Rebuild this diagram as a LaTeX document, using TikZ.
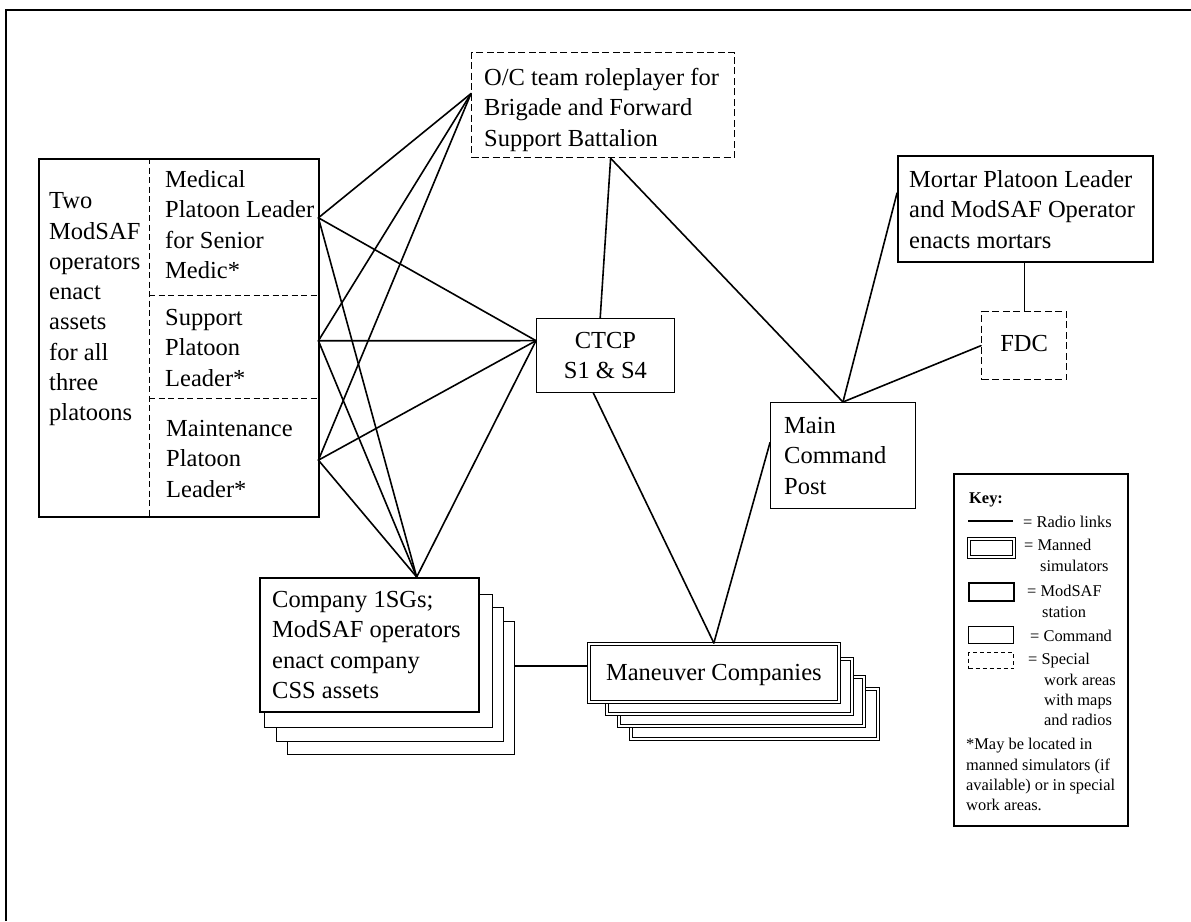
\documentclass[tikz,border=0pt]{standalone}
\usepackage{fontspec}
\setmainfont{Liberation Serif}
\newcommand\mainfs{\fontsize{24.5}{30.3}\selectfont}
\newcommand\keyfs{\fontsize{16.4}{20.4}\selectfont}
\begin{document}
\begin{tikzpicture}[x=1pt,y=-1pt,
  conn/.style={line width=1.6pt, line cap=round},
  thinconn/.style={line width=1.1pt},
  frameline/.style={line width=1.6pt},
  modsaf/.style={draw, line width=1.7pt, fill=white, inner sep=0pt, rectangle, anchor=north west},
  backbox/.style={draw, line width=1.4pt, fill=white, inner sep=0pt, rectangle, anchor=north west},
  cmd/.style={draw, line width=0.9pt, fill=white, inner sep=0pt, rectangle, anchor=north west},
  special/.style={draw, line width=1.3pt, dash pattern=on 7pt off 3.5pt, fill=white, inner sep=0pt, rectangle, anchor=north west},
  manned/.style={draw, double=white, double distance=1.3pt, line width=1.7pt, fill=white, inner sep=0pt, rectangle, anchor=north west},
  divider/.style={line width=1.2pt, dash pattern=on 6pt off 3.5pt},
  area/.style={inner sep=0pt, rectangle, anchor=north west},
  txt/.style={inner sep=0pt, align=left, anchor=north west, font=\mainfs},
  keytxt/.style={inner sep=0pt, align=left, anchor=north west, font=\keyfs}
]
\useasboundingbox (0,0) rectangle (1191,921);
% outer frame
\draw[frameline] (6,921) -- (6,10) -- (1191,10);

% ---- left platoon box
\node[modsaf, minimum width=280, minimum height=358] (lbox) at (38,158) {};
\node[area, minimum width=111, minimum height=358] (two) at (38,158) {};
\node[area, minimum width=169, minimum height=137] (med) at (149,158) {};
\node[area, minimum width=169, minimum height=103] (sup) at (149,295) {};
\node[area, minimum width=169, minimum height=118] (mnt) at (149,398) {};
\draw[divider] (two.north east) -- (two.south east);
\draw[divider] (med.south west) -- (med.south east);
\draw[divider] (sup.south west) -- (sup.south east);
\node[txt] (twotxt) at (49,187.3) {\strut Two\\ModSAF\\operators\\enact\\assets\\for all\\three\\platoons};
\node[txt] (medtxt) at (165,166) {\strut Medical\\Platoon Leader\\for Senior\\Medic*};
\node[txt] (suptxt) at (165,304) {\strut Support\\Platoon\\Leader*};
\node[txt] (mnttxt) at (166,415) {\strut Maintenance\\Platoon\\Leader*};

% ---- O/C box
\node[special, minimum width=263, minimum height=105] (oc) at (471,52) {};
\node[txt] (octxt) at (484,64) {\strut O/C team roleplayer for\\Brigade and Forward\\Support Battalion};

% ---- CTCP
\node[cmd, minimum width=138, minimum height=74, align=center, font=\mainfs] (ctcp) at (536,318) {CTCP\\S1 \& S4};

% ---- Main Command Post
\node[cmd, minimum width=145, minimum height=106] (mcp) at (770,402) {};
\node[txt] (mcptxt) at (784,412) {\strut Main\\Command\\Post};

% ---- Mortar
\node[modsaf, minimum width=255, minimum height=106] (mortar) at (897,155) {};
\node[txt] (mortartxt) at (909,166) {\strut Mortar Platoon Leader\\and ModSAF Operator\\enacts mortars};

% ---- FDC
\node[special, minimum width=85, minimum height=68, font=\mainfs, text height=12pt, text depth=0pt] (fdc) at (981,311) {FDC};

% ---- Company 1SGs stack
\node[backbox, minimum width=227, minimum height=133] (co4) at (287,621) {};
\node[backbox, minimum width=227, minimum height=134] (co3) at (276,607) {};
\node[backbox, minimum width=228, minimum height=133] (co2) at (264,594) {};
\node[modsaf, line width=1.5pt, minimum width=219, minimum height=134] (co) at (259,577) {};
\node[txt] (cotxt) at (272,586) {\strut Company 1SGs;\\ModSAF operators\\enact company\\CSS assets};

% ---- Maneuver Companies stack
\node[manned, minimum width=247, minimum height=50] (man4) at (630,688) {};
\node[manned, minimum width=245, minimum height=49] (man3) at (618,676) {};
\node[manned, minimum width=245, minimum height=55] (man2) at (606,658) {};
\node[manned, minimum width=250, minimum height=58, font=\mainfs, text depth=0pt] (man) at (588,643) {Maneuver Companies};

% ---- connectors
\draw[conn] (med.6) -- (oc.175);
\draw[conn] (sup.4) -- (oc.175);
\draw[conn] (mnt.-2) -- (oc.175);
\draw[conn] (med.6) -- (ctcp.168);
\draw[conn] (sup.4) -- (ctcp.168);
\draw[conn] (mnt.-2) -- (ctcp.168);
\draw[conn] (med.6) -- (co.55);
\draw[conn] (sup.4) -- (co.55);
\draw[conn] (mnt.-2) -- (co.55);
\draw[conn] (ctcp.168) -- (co.55);
\draw[conn] (oc.-82) -- (ctcp.98);
\draw[conn] (oc.-82) -- (mcp.north);
\draw[conn] (ctcp.-108) -- (man.north);
\draw[conn] (mcp.170) -- (man.north);
\draw[conn] (mcp.north) -- (mortar.173);
\draw[conn] (mcp.north) -- (fdc.west);
\draw[thinconn] (fdc.north) -- (fdc.north |- mortar.south);
\draw[thinconn] (co4.11) -- (co4.11 -| man.west);

% ---- Key
\node[draw, line width=2.2pt, inner sep=0pt, anchor=north west, minimum width=174, minimum height=352] (key) at (953,473) {};
\node[keytxt, font=\keyfs\bfseries] (keyhead) at (969,488.7) {\strut Key:};
\coordinate (kr1) at (968,521);
\coordinate (kr2) at (1013,521);
\draw[line width=1.4pt] (kr1) -- (kr2);
\node[keytxt] (kradio) at (1023,512.7) {\strut = Radio links};
\node[manned, minimum width=45, minimum height=18] (kman) at (968,538) {};
\node[keytxt] (kmantxt) at (1024,536.2) {\strut = Manned\\\hspace*{16pt}simulators};
\node[modsaf, line width=1.5pt, minimum width=45, minimum height=18] (kmod) at (968,582) {};
\node[keytxt] (kmodtxt) at (1027,582.2) {\strut = ModSAF\\\hspace*{15pt}station};
\node[cmd, minimum width=45, minimum height=17] (kcmd) at (968,626) {};
\node[keytxt] (kcmdtxt) at (1030,627.2) {\strut = Command};
\node[special, line width=1.1pt, dash pattern=on 4pt off 3pt, minimum width=45, minimum height=16] (kspc) at (968,652) {};
\node[keytxt] (kspctxt) at (1028,650.2) {\strut = Special\\\hspace*{16pt}work areas\\\hspace*{16pt}with maps\\\hspace*{16pt}and radios};
\node[keytxt] (knote) at (966,735.2) {\strut *May be located in\\manned simulators (if\\available) or in special\\work areas.};
\end{tikzpicture}
\end{document}
